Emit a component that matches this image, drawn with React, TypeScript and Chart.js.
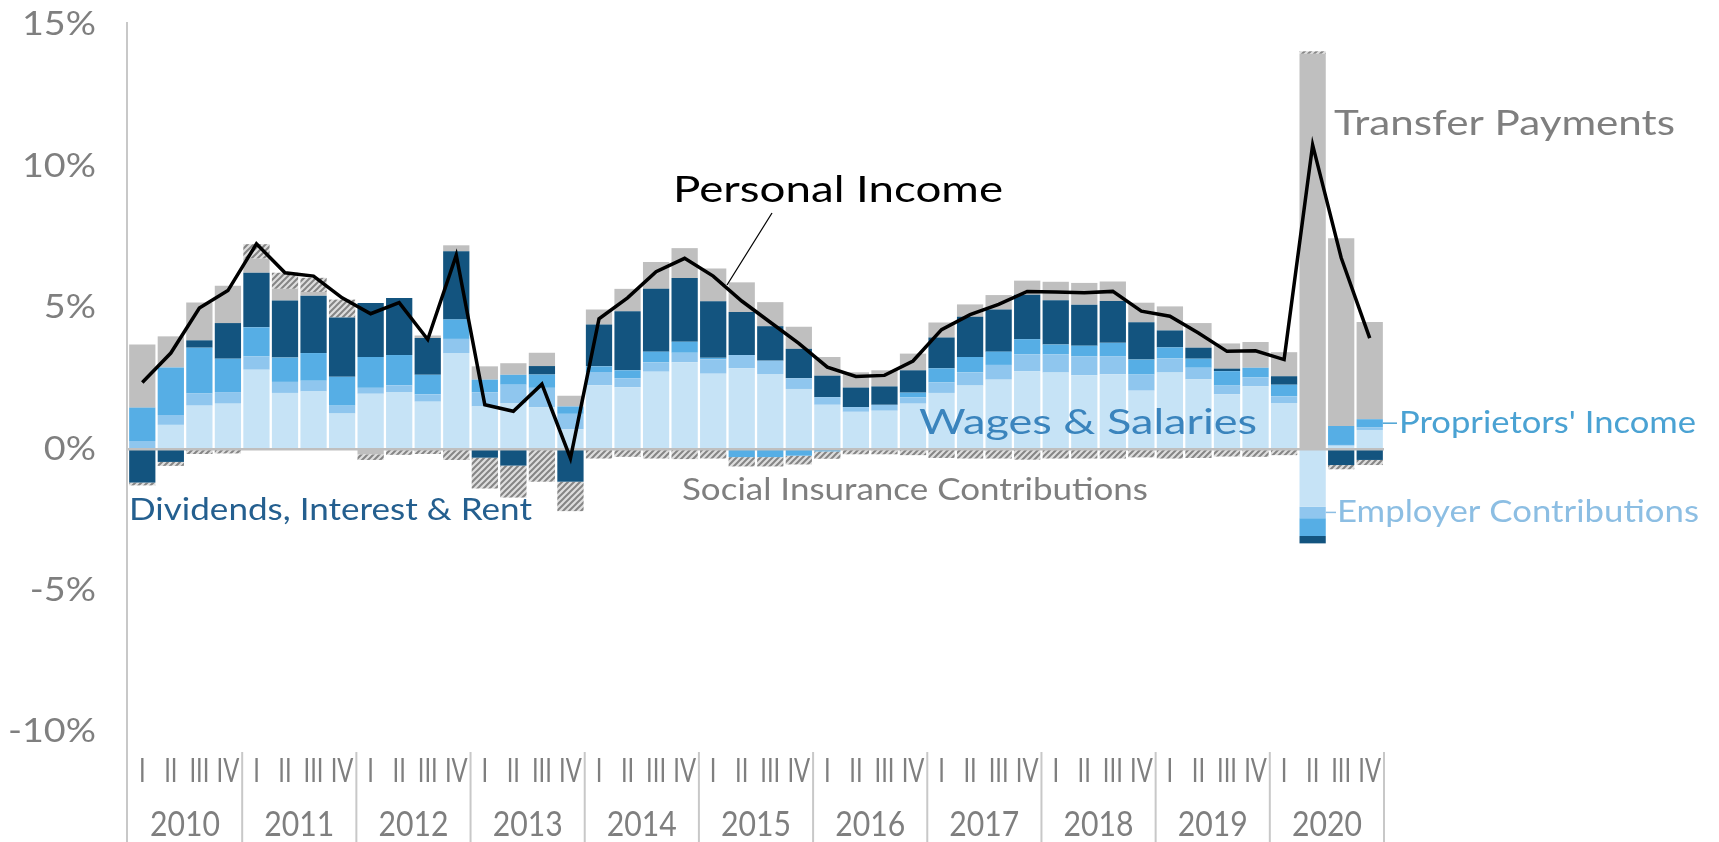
import { useEffect, useRef } from 'react';
import { Chart, registerables } from 'chart.js';

Chart.register(...registerables);

const years = ['2010', '2011', '2012', '2013', '2014', '2015', '2016', '2017', '2018', '2019', '2020'];
const quarterLabels = ['I', 'II', 'III', 'IV'];
const categories = years.flatMap((y) => quarterLabels.map((q) => `${y} ${q}`));

const wages = [
  0.02, 0.86, 1.54, 1.61,
  2.81, 1.99, 2.04, 1.26,
  1.96, 2.02, 1.68, 3.40,
  1.51, 1.63, 1.48, 0.71,
  2.26, 2.19, 2.74, 3.07,
  2.67, 2.86, 2.66, 2.13,
  1.57, 1.32, 1.36, 1.61,
  1.99, 2.25, 2.46, 2.75,
  2.71, 2.61, 2.65, 2.07,
  2.71, 2.47, 1.94, 2.22,
  1.63, -2.03, 0.12, 0.68,
];
const employerContrib = [
  0.27, 0.35, 0.43, 0.41,
  0.47, 0.39, 0.38, 0.28,
  0.21, 0.24, 0.26, 0.50,
  0.50, 0.65, 0.69, 0.54,
  0.47, 0.32, 0.33, 0.34,
  0.51, 0.47, 0.47, 0.38,
  0.27, 0.17, 0.21, 0.22,
  0.37, 0.47, 0.52, 0.60,
  0.64, 0.67, 0.64, 0.57,
  0.50, 0.41, 0.31, 0.32,
  0.24, -0.41, 0.03, 0.10,
];
const proprietors = [
  1.18, 1.68, 1.62, 1.18,
  1.03, 0.86, 0.98, 1.02,
  1.09, 1.07, 0.69, 0.69,
  0.45, 0.35, 0.47, 0.26,
  0.20, 0.28, 0.38, 0.39,
  0.05, -0.28, -0.28, -0.23,
  -0.08, 0.0, 0.0, 0.17,
  0.50, 0.54, 0.47, 0.54,
  0.35, 0.38, 0.47, 0.53,
  0.39, 0.32, 0.51, 0.34,
  0.41, -0.63, 0.67, 0.28,
];
const dividends = [
  -1.18, -0.45, 0.26, 1.26,
  1.93, 2.02, 2.03, 2.10,
  1.91, 2.02, 1.30, 2.41,
  -0.30, -0.58, 0.30, -1.15,
  1.48, 2.09, 2.22, 2.25,
  2.00, 1.52, 1.22, 1.04,
  0.76, 0.69, 0.65, 0.79,
  1.09, 1.42, 1.49, 1.57,
  1.57, 1.45, 1.48, 1.32,
  0.60, 0.39, 0.09, 0.0,
  0.30, -0.26, -0.56, -0.38,
];
const transfers = [
  2.23, 1.10, 1.34, 1.32,
  0.50, 0.41, 0.13, 0.0,
  -0.18, 0.0, 0.09, 0.21,
  0.47, 0.41, 0.47, 0.38,
  0.53, 0.79, 0.95, 1.06,
  1.16, 1.05, 0.85, 0.78,
  0.66, 0.54, 0.57, 0.59,
  0.53, 0.44, 0.51, 0.50,
  0.65, 0.77, 0.69, 0.69,
  0.85, 0.87, 0.89, 0.91,
  0.85, 13.98, 6.64, 3.44,
];
const socialInsurance = [
  -0.10, -0.14, -0.17, -0.15,
  0.51, 0.57, 0.50, 0.63,
  -0.20, -0.20, -0.17, -0.38,
  -1.09, -1.13, -1.15, -1.04,
  -0.33, -0.27, -0.33, -0.35,
  -0.33, -0.33, -0.33, -0.31,
  -0.26, -0.18, -0.18, -0.21,
  -0.31, -0.33, -0.33, -0.37,
  -0.33, -0.33, -0.33, -0.29,
  -0.33, -0.31, -0.26, -0.27,
  -0.21, 0.09, -0.15, -0.18,
];
const personalIncome = [
  2.36, 3.40, 4.99, 5.61,
  7.26, 6.24, 6.12, 5.35,
  4.79, 5.18, 3.88, 6.86,
  1.57, 1.34, 2.30, -0.32,
  4.61, 5.35, 6.28, 6.75,
  6.12, 5.24, 4.49, 3.74,
  2.90, 2.57, 2.61, 3.12,
  4.23, 4.76, 5.12, 5.58,
  5.56, 5.53, 5.58, 4.88,
  4.70, 4.11, 3.46, 3.48,
  3.17, 10.76, 6.77, 3.93,
];
const yTicks = [-10, -5, 0, 5, 10, 15];

const FONT = 'Lato, "Open Sans", sans-serif';
const GRAY_TEXT = '#7f7f7f';
const AXIS_LINE = '#c8c8c8';

function drawFit(
  ctx: CanvasRenderingContext2D,
  text: string,
  x: number,
  y: number,
  w: number,
  size: number,
  color: string,
  align: 'left' | 'center' | 'right' = 'left'
) {
  ctx.save();
  ctx.font = `${size}px ${FONT}`;
  const m = ctx.measureText(text).width;
  const sx = w / m;
  ctx.translate(x, y);
  ctx.scale(sx, 1);
  ctx.fillStyle = color;
  ctx.textAlign = align;
  ctx.textBaseline = 'middle';
  ctx.fillText(text, 0, 0);
  ctx.restore();
}

function drawScaled(
  ctx: CanvasRenderingContext2D,
  text: string,
  x: number,
  y: number,
  size: number,
  sx: number,
  color: string,
  align: 'left' | 'center' | 'right'
) {
  ctx.save();
  ctx.font = `${size}px ${FONT}`;
  ctx.translate(x, y);
  ctx.scale(sx, 1);
  ctx.fillStyle = color;
  ctx.textAlign = align;
  ctx.textBaseline = 'middle';
  ctx.fillText(text, 0, 0);
  ctx.restore();
}

export default function App() {
  const ref = useRef<HTMLCanvasElement>(null);

  useEffect(() => {
    const canvas = ref.current!;
    const ctx = canvas.getContext('2d')!;

    const pc = document.createElement('canvas');
    pc.width = 6;
    pc.height = 6;
    const p = pc.getContext('2d')!;
    p.fillStyle = '#dedede';
    p.fillRect(0, 0, 6, 6);
    p.strokeStyle = '#858585';
    p.lineWidth = 2;
    p.beginPath();
    p.moveTo(0, 6);
    p.lineTo(6, 0);
    p.moveTo(-3, 3);
    p.lineTo(3, -3);
    p.moveTo(3, 9);
    p.lineTo(9, 3);
    p.stroke();
    const hatch = ctx.createPattern(pc, 'repeat')!;

    const overlay = {
      id: 'overlay',
      beforeDatasetDraw(chart: any, args: any) {
        if (args.index !== 6) return;
        const c = chart.ctx;
        const { left, right } = chart.chartArea;
        const y0 = chart.scales.y.getPixelForValue(0);
        c.save();
        c.strokeStyle = '#bfbfbf';
        c.lineWidth = 2.5;
        c.beginPath();
        c.moveTo(left, y0);
        c.lineTo(right, y0);
        c.stroke();
        c.restore();
      },
      afterDraw(chart: any) {
        const c = chart.ctx as CanvasRenderingContext2D;
        const xs = chart.scales.x;
        const ys = chart.scales.y;
        const { left, right } = chart.chartArea;
        const catW = (right - left) / categories.length;

        // y tick labels
        yTicks.forEach((v) => {
          drawScaled(c, `${v}%`, 96, ys.getPixelForValue(v), 32, 1.18, GRAY_TEXT, 'right');
        });

        // y axis line
        c.save();
        c.strokeStyle = AXIS_LINE;
        c.lineWidth = 2;
        c.beginPath();
        c.moveTo(left - 1, 22);
        c.lineTo(left - 1, 842);
        c.stroke();
        // year separators
        for (let k = 1; k <= years.length; k++) {
          const x = left + k * 4 * catW;
          c.beginPath();
          c.moveTo(x, 752);
          c.lineTo(x, 842);
          c.stroke();
        }
        c.restore();

        // quarter labels
        categories.forEach((_, i) => {
          const x = xs.getPixelForValue(i);
          drawScaled(c, quarterLabels[i % 4], x, 771, 33, 0.72, GRAY_TEXT, 'center');
        });
        // year labels
        years.forEach((yr, k) => {
          const x = left + (k * 4 + 2) * catW;
          drawFit(c, yr, x, 825, 70, 35, GRAY_TEXT, 'center');
        });

        // annotations
        drawFit(c, 'Personal Income', 673, 190, 330, 36, '#000000');
        c.save();
        c.strokeStyle = '#000';
        c.lineWidth = 1.3;
        c.beginPath();
        c.moveTo(772, 213);
        c.lineTo(727, 285);
        c.stroke();
        c.restore();

        drawFit(c, 'Transfer Payments', 1334, 124, 341, 35, GRAY_TEXT);
        drawFit(c, 'Wages & Salaries', 919, 423, 338, 35, '#3a84bd');
        drawFit(c, 'Social Insurance Contributions', 682, 490, 466, 31, GRAY_TEXT);
        drawFit(c, 'Dividends, Interest & Rent', 129, 510, 403, 31, '#245f8f');

        const last = categories.length - 1;
        const barRight = xs.getPixelForValue(last) + catW * 0.46;
        const propY = ys.getPixelForValue(wages[last] + employerContrib[last] + proprietors[last] / 2);
        c.save();
        c.strokeStyle = '#4aa2d3';
        c.lineWidth = 1.5;
        c.beginPath();
        c.moveTo(barRight, propY);
        c.lineTo(1397, propY);
        c.stroke();
        c.restore();
        drawFit(c, "Proprietors' Income", 1399, propY, 297, 31, '#4aa2d3');

        const q2 = categories.length - 3;
        const q2Right = xs.getPixelForValue(q2) + catW * 0.46;
        const empY = ys.getPixelForValue(wages[q2] + employerContrib[q2] / 2);
        c.save();
        c.strokeStyle = '#8cbee3';
        c.lineWidth = 1.5;
        c.beginPath();
        c.moveTo(q2Right, empY);
        c.lineTo(1336, empY);
        c.stroke();
        c.restore();
        drawFit(c, 'Employer Contributions', 1337, empY, 362, 31, '#8cbee3');
      },
    };

    const barBase = { type: 'bar' as const, stack: 'income', order: 1, borderWidth: 0, barPercentage: 0.92, categoryPercentage: 1.0 };

    const chart = new Chart(ctx, {
      type: 'bar',
      data: {
        labels: categories,
        datasets: [
          { ...barBase, label: 'Wages & Salaries', data: wages, backgroundColor: '#c6e3f6' },
          { ...barBase, label: 'Employer Contributions', data: employerContrib, backgroundColor: '#8fc6ee' },
          { ...barBase, label: "Proprietors' Income", data: proprietors, backgroundColor: '#56aee5' },
          { ...barBase, label: 'Dividends, Interest & Rent', data: dividends, backgroundColor: '#13547f' },
          { ...barBase, label: 'Transfer Payments', data: transfers, backgroundColor: '#bfbfbf' },
          { ...barBase, label: 'Social Insurance Contributions', data: socialInsurance, backgroundColor: hatch as any },
          {
            type: 'line' as const,
            label: 'Personal Income',
            data: personalIncome,
            stack: 'line',
            order: 0,
            borderColor: '#000000',
            borderWidth: 3.5,
            pointRadius: 0,
            tension: 0,
            fill: false,
          } as any,
        ],
      },
      options: {
        responsive: false,
        devicePixelRatio: 1,
        animation: false,
        plugins: { legend: { display: false }, tooltip: { enabled: false } },
        layout: { autoPadding: false, padding: { left: 0, right: 335, top: 25, bottom: 110 } },
        scales: {
          x: {
            type: 'category',
            display: false,
            stacked: true,
            offset: true,
            grid: { display: false },
          },
          y: {
            stacked: true,
            min: yTicks[0],
            max: yTicks[yTicks.length - 1],
            afterFit: (s: any) => {
              s.width = 128;
            },
            border: { display: false },
            grid: { display: false, drawTicks: false },
            ticks: { display: false },
          },
        },
      },
      plugins: [overlay],
    } as any);

    return () => chart.destroy();
  }, []);

  return (
    <div style={{ position: 'fixed', left: 0, top: 0, width: 1719, height: 842, background: '#ffffff' }}>
      <canvas ref={ref} width={1719} height={842} style={{ width: 1719, height: 842, display: 'block' }} />
    </div>
  );
}
